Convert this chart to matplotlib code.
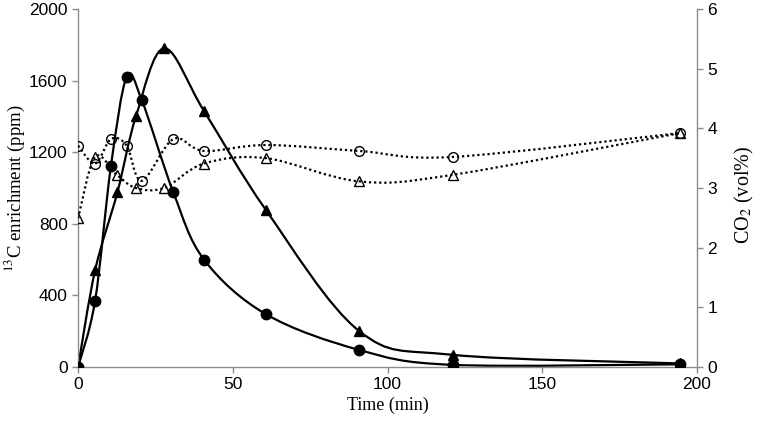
import numpy as np
import matplotlib
matplotlib.use("Agg")
from matplotlib import pyplot as plt
from matplotlib.path import Path
from matplotlib.patches import PathPatch

# 13C enrichment (ppm), left axis
t_circ = [0, 5.5, 10.6, 15.7, 20.6, 30.8, 40.7, 60.7, 90.9, 121, 194.5]
c13_circ = [0, 370, 1120, 1620, 1490, 975, 600, 295, 95, 12, 15]
t_tri = [0, 5.5, 12.7, 18.7, 27.8, 40.7, 60.7, 90.9, 121, 194.5]
c13_tri = [0, 540, 975, 1400, 1780, 1430, 877, 200, 68, 20]

# CO2 (vol%), right axis
co2_circ = [3.71, 3.41, 3.82, 3.71, 3.12, 3.82, 3.62, 3.72, 3.62, 3.52, 3.92]
t_tri_co2 = [0, 5.5, 12.5, 18.7, 27.8, 40.7, 60.7, 90.9, 121, 194.5]
co2_tri = [2.49, 3.52, 3.22, 3.0, 3.0, 3.41, 3.5, 3.11, 3.22, 3.92]

xticks = [0, 50, 100, 150, 200]
yticks_left = [0, 400, 800, 1200, 1600, 2000]
yticks_right = [0, 1, 2, 3, 4, 5, 6]

plt.rcParams['font.family'] = 'Liberation Sans'
plt.rcParams['mathtext.fontset'] = 'stix'


def smooth_path(x, y):
    # excel style smoothed line as cubic bezier through the points
    pts = np.column_stack([x, y]).astype(float)
    n = len(pts)
    verts = [pts[0]]
    codes = [Path.MOVETO]
    for i in range(n - 1):
        p0 = pts[max(i - 1, 0)]
        p1 = pts[i]
        p2 = pts[i + 1]
        p3 = pts[min(i + 2, n - 1)]
        verts += [p1 + (p2 - p0) / 6, p2 - (p3 - p1) / 6, p2]
        codes += [Path.CURVE4] * 3
    return Path(verts, codes)


def draw_series(ax, x, y, marker, filled, dotted):
    ls = (0, (1, 1.3)) if dotted else '-'
    ax.add_patch(PathPatch(smooth_path(x, y), fill=False, edgecolor='black',
                           lw=1.6, ls=ls, zorder=2))
    if filled:
        ax.plot(x, y, ls='none', marker=marker, ms=7.5, color='black', zorder=3)
    else:
        ax.plot(x, y, ls='none', marker=marker, ms=7, mfc='none', mec='black',
                mew=1.0, zorder=3)


fig, ax = plt.subplots(figsize=(7.58, 4.26), dpi=100)
fig.subplots_adjust(left=0.103, right=0.9195, bottom=0.1385, top=0.979)
ax2 = ax.twinx()

draw_series(ax, t_circ, c13_circ, 'o', True, False)
draw_series(ax, t_tri, c13_tri, '^', True, False)
draw_series(ax2, t_circ, co2_circ, 'o', False, True)
draw_series(ax2, t_tri_co2, co2_tri, '^', False, True)

ax.set_xlim(0, 200)
ax.set_ylim(0, 2000)
ax2.set_ylim(0, 6)
ax.set_xticks(xticks)
ax.set_yticks(yticks_left)
ax2.set_yticks(yticks_right)

gray = '#8c8c8c'
for a in (ax, ax2):
    a.spines['top'].set_visible(False)
    for s in ('left', 'right', 'bottom'):
        a.spines[s].set_color(gray)
        a.spines[s].set_linewidth(1.0)
    a.tick_params(colors=gray, labelcolor='black', labelsize=12.5, length=4, width=1.0)
ax.spines['right'].set_visible(False)
ax2.spines['left'].set_visible(False)
ax2.spines['bottom'].set_visible(False)

ax.set_xlabel('Time (min)', family='Liberation Serif', fontsize=13, labelpad=3)
ax.set_ylabel('$^{13}$C enrichment (ppm)', family='Liberation Serif', fontsize=13.5)
ax2.set_ylabel('CO$_2$ (vol%)', family='Liberation Serif', fontsize=14.5)
ax.yaxis.set_label_coords(-0.083, 0.5)
ax2.yaxis.set_label_coords(1.058, 0.48)

fig.savefig('out.png', dpi=100)
